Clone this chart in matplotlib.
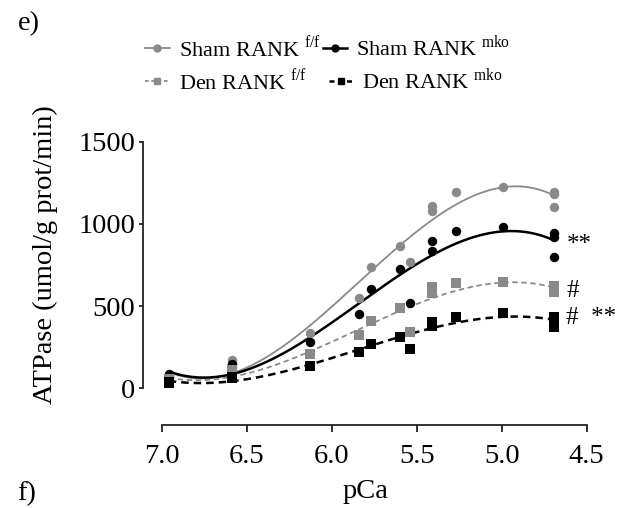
import numpy as np
import matplotlib.pyplot as plt
from matplotlib.lines import Line2D

plt.rcParams['font.family'] = ['Liberation Serif', 'DejaVu Serif']
plt.rcParams['mathtext.fontset'] = 'custom'
plt.rcParams['mathtext.rm'] = 'Liberation Serif'

pca_sham = [6.96, 6.96, 6.59, 6.59, 6.13, 5.84, 5.77, 5.60, 5.54, 5.41, 5.41, 5.27, 4.99, 4.69, 4.69, 4.69]
pca_den = [6.96, 6.96, 6.59, 6.59, 6.13, 5.84, 5.77, 5.60, 5.54, 5.41, 5.41, 5.27, 4.99, 4.69, 4.69]

# ATPase activity (umol/g prot/min)
atp_sham_ff = [75, 65, 172, 150, 338, 547, 736, 866, 770, 1111, 1078, 1196, 1226, 1196, 1182, 1105]
atp_sham_mko = [90, 70, 148, 130, 280, 450, 602, 726, 517, 898, 835, 957, 979, 943, 918, 800]
atp_den_ff = [55, 45, 111, 90, 209, 324, 409, 487, 344, 618, 582, 639, 645, 624, 584]
atp_den_mko = [40, 30, 71, 60, 136, 219, 268, 314, 237, 401, 379, 432, 460, 436, 375]

labels = ['Sham RANK $^{\\mathrm{f/f}}$', 'Sham RANK $^{\\mathrm{mko}}$',
          'Den RANK $^{\\mathrm{f/f}}$', 'Den RANK $^{\\mathrm{mko}}$']
signif = ['**', '#', '#  **']

gray = '#8a8a8a'
series = [
    (pca_sham, atp_sham_ff, gray, 'o', '-', 1.3),
    (pca_sham, atp_sham_mko, 'black', 'o', '-', 1.8),
    (pca_den, atp_den_ff, gray, 's', (0, (3, 2)), 1.3),
    (pca_den, atp_den_mko, 'black', 's', (0, (3, 2)), 1.8),
]

fig = plt.figure(figsize=(6.26, 5.08), dpi=100)
ax = fig.add_axes([0.2289, 0.1634, 0.7083, 0.5577])

handles = []
for (x, y, c, m, ls, lw), lab in zip(series, labels):
    x = np.array(x)
    y = np.array(y)
    ax.scatter(x, y, s=46, marker=m, color=c, zorder=3, linewidths=0)
    coef = np.polyfit(x, y, 3)
    xx = np.linspace(x.max(), x.min(), 200)
    ax.plot(xx, np.polyval(coef, xx), color=c, ls=ls, lw=lw, zorder=2)
    handles.append(Line2D([], [], color=c, ls='-' if ls == '-' else (0, (2, 1.5)),
                          lw=lw, marker=m, markersize=5))

ax.set_xlim(7.11, 4.5)
ax.set_ylim(-223, 1500)
ax.set_xticks([7.0, 6.5, 6.0, 5.5, 5.0, 4.5])
ax.set_xticklabels(['7.0', '6.5', '6.0', '5.5', '5.0', '4.5'])
ax.set_yticks([0, 500, 1000, 1500])
for s in ['top', 'right']:
    ax.spines[s].set_visible(False)
ax.spines['bottom'].set_bounds(7.0, 4.5)
ax.spines['left'].set_bounds(0, 1500)
for s in ['bottom', 'left']:
    ax.spines[s].set_linewidth(1.3)
    ax.spines[s].set_color('#222222')
ax.tick_params(axis='x', length=5, width=1.3, color='#222222', pad=9, labelsize=20.5)
ax.tick_params(axis='y', length=3, width=1.3, color='#222222', pad=3, labelsize=20.5)

ax.set_xlabel('pCa', fontsize=20.5, labelpad=7)
ax.set_ylabel('ATPase (umol/g prot/min)', fontsize=20.5)
ax.yaxis.set_label_coords(-0.192, 0.6)

# significance marks next to the last points
ax.text(4.62, 872, signif[0], fontsize=18, va='center', ha='left', clip_on=False)
ax.text(4.62, 590, signif[1], fontsize=18, va='center', ha='left', clip_on=False)
ax.text(4.62, 425, signif[2], fontsize=18, va='center', ha='left', clip_on=False)

leg1 = fig.legend(handles=handles[:2], labels=labels[:2], loc='upper left',
                  bbox_to_anchor=(0.232, 0.932), ncol=2, frameon=False, fontsize=16,
                  handlelength=1.1, handletextpad=0.4, columnspacing=0.1,
                  borderpad=0, borderaxespad=0)
leg2 = fig.legend(handles=handles[2:], labels=labels[2:], loc='upper left',
                  bbox_to_anchor=(0.232, 0.867), ncol=2, frameon=False, fontsize=16,
                  handlelength=1.1, handletextpad=0.4, columnspacing=1.0,
                  borderpad=0, borderaxespad=0)

fig.text(0.028, 0.953, 'e)', fontsize=20.5, va='center')
fig.text(0.028, 0.028, 'f)', fontsize=20.5, va='center')

fig.savefig('out.png', dpi=100)
